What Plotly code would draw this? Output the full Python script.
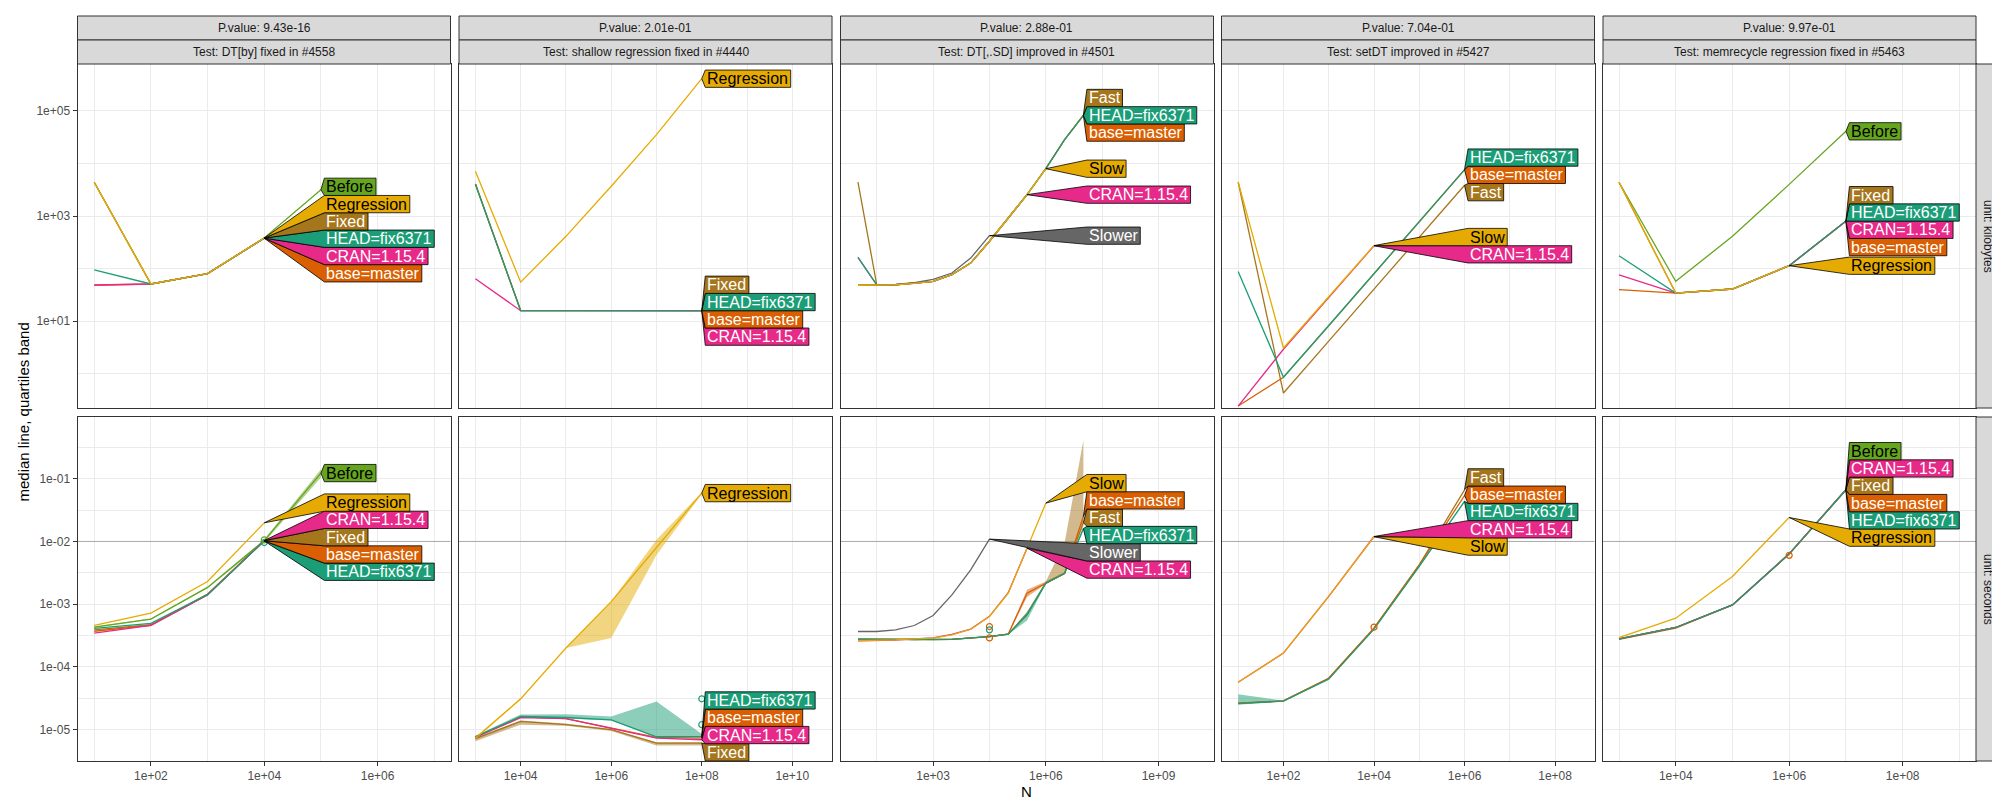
import numpy as np
import plotly.graph_objects as go

# ---------------- data ----------------
TESTS = ["DT[by] fixed in #4558", "shallow regression fixed in #4440",
         "DT[,.SD] improved in #4501", "setDT improved in #5427",
         "memrecycle regression fixed in #5463"]
PVALUES = ["9.43e-16", "2.01e-01", "2.88e-01", "7.04e-01", "9.97e-01"]
UNITS = ["kilobytes", "seconds"]

# Panel 1: DT[by]
N_BY = [1e1, 1e2, 1e3, 1e4, 1e5]
KB_BY = {
    "Before":       [4400, 50.7, 80, 382, 3170],
    "Regression":   [4400, 50.7, 80, 381],
    "Fixed":        [4400, 50.7, 80, 380],
    "HEAD=fix6371": [94, 50.7, 80, 379],
    "CRAN=1.15.4":  [48.5, 50.7, 80, 378],
    "base=master":  [48, 50.7, 80, 377],
}
SEC_BY = {
    "Before":       [4.3e-4, 5.8e-4, 1.85e-3, 1.03e-2, 0.123],
    "Regression":   [4.6e-4, 7.2e-4, 2.3e-3, 1.98e-2],
    "CRAN=1.15.4":  [3.45e-4, 4.6e-4, 1.40e-3, 1.032e-2],
    "Fixed":        [3.9e-4, 4.7e-4, 1.45e-3, 1.028e-2],
    "base=master":  [3.7e-4, 4.6e-4, 1.42e-3, 1.024e-2],
    "HEAD=fix6371": [4.1e-4, 4.95e-4, 1.42e-3, 1.020e-2],
}
BAND_BY = {"Before": ([4.2e-4, 5.7e-4, 1.8e-3, 9.6e-3, 0.105],
                      [4.4e-4, 5.9e-4, 1.9e-3, 1.08e-2, 0.14])}
OUT_N_BY = [1e4, 1e4]
OUT_SEC_BY = [9.6e-3, 1.06e-2]
OUT_GRP_BY = ["HEAD=fix6371", "Before"]

# Panel 2: shallow regression
N_SH = [1e3, 1e4, 1e5, 1e6, 1e7, 1e8]
KB_SH = {
    "Regression":   [7100, 55, 410, 3680, 35400, 412000],
    "Fixed":        [4070, 15.7, 15.7, 15.7, 15.7, 15.72],
    "HEAD=fix6371": [4070, 15.7, 15.7, 15.7, 15.7, 15.71],
    "base=master":  [4070, 15.7, 15.7, 15.7, 15.7, 15.70],
    "CRAN=1.15.4":  [64, 15.7, 15.7, 15.7, 15.7, 15.69],
}
SEC_SH = {
    "Regression":   [7.3e-6, 3.1e-5, 2.0e-4, 1.1e-3, 8.0e-3, 0.059],
    "HEAD=fix6371": [7.7e-6, 1.62e-5, 1.56e-5, 1.43e-5, 7.7e-6, 7.75e-6],
    "base=master":  [7.7e-6, 1.6e-5, 1.5e-5, 1.05e-5, 7.5e-6, 7.3e-6],
    "CRAN=1.15.4":  [7.5e-6, 1.55e-5, 1.5e-5, 1.05e-5, 7.3e-6, 6.9e-6],
    "Fixed":        [7.2e-6, 1.35e-5, 1.2e-5, 1.0e-5, 6.1e-6, 6.1e-6],
}
BAND_SH = {
    "Regression":   ([7.0e-6, 3.0e-5, 2.0e-4, 2.9e-4, 6.1e-3, 0.057],
                     [7.6e-6, 3.2e-5, 2.0e-4, 1.1e-3, 1.06e-2, 0.061]),
    "HEAD=fix6371": ([7.5e-6, 1.55e-5, 1.5e-5, 1.4e-5, 7.5e-6, 7.5e-6],
                     [8.0e-6, 1.75e-5, 1.76e-5, 1.62e-5, 2.8e-5, 8.5e-6]),
    "Fixed":        ([6.5e-6, 1.2e-5, 1.15e-5, 9.5e-6, 5.6e-6, 5.6e-6],
                     [7.4e-6, 1.4e-5, 1.25e-5, 1.02e-5, 6.3e-6, 6.3e-6]),
}
OUT_N_SH = [1e8, 1e8]
OUT_SEC_SH = [3.1e-5, 1.2e-5]
OUT_GRP_SH = ["HEAD=fix6371", "HEAD=fix6371"]

# Panel 3: DT[,.SD]
N_SD = [1e1, 10**1.5, 1e2, 10**2.5, 1e3, 10**3.5, 1e4, 10**4.5, 1e5,
        10**5.5, 1e6, 10**6.5, 1e7]
KB_SD = {
    "Fast":         [4440, 49, 49, 52, 57, 76, 127, 330, 916, 2550, 7960, 28400, 82900],
    "HEAD=fix6371": [163, 49, 49, 52, 57, 76, 127, 330, 916, 2550, 7960, 28400, 82800],
    "base=master":  [48, 49, 49, 52, 57, 76, 127, 330, 916, 2550, 7960, 28400, 82700],
    "Slow":         [48, 49, 49, 52, 57, 76, 127, 330, 916, 2550, 7960],
    "CRAN=1.15.4":  [163, 49, 49, 52, 57, 76, 127, 330, 916, 2550],
    "Slower":       [48, 49, 50, 54, 62, 82, 158, 422],
}
SEC_SD = {
    "Slow":         [2.63e-4, 2.65e-4, 2.7e-4, 2.8e-4, 2.88e-4, 3.24e-4, 3.98e-4,
                     6.37e-4, 1.5e-3, 7.8e-3, 0.0408],
    "base=master":  [2.75e-4, 2.74e-4, 2.72e-4, 2.7e-4, 2.72e-4, 2.75e-4, 2.9e-4,
                     3.05e-4, 3.33e-4, 1.5e-3, 2.16e-3, 3.1e-3, 0.025],
    "Fast":         [2.77e-4, 2.75e-4, 2.72e-4, 2.7e-4, 2.72e-4, 2.75e-4, 2.9e-4,
                     3.05e-4, 3.33e-4, 7.0e-4, 2.16e-3, 3.1e-3, 0.020],
    "HEAD=fix6371": [2.77e-4, 2.75e-4, 2.72e-4, 2.68e-4, 2.72e-4, 2.75e-4, 2.9e-4,
                     3.05e-4, 3.33e-4, 6.76e-4, 2.16e-3, 3.1e-3, 0.016],
    "Slower":       [3.67e-4, 3.67e-4, 3.89e-4, 4.57e-4, 6.6e-4, 1.41e-3, 3.52e-3, 1.09e-2],
    "CRAN=1.15.4":  [2.6e-4, 2.62e-4, 2.68e-4, 2.8e-4, 2.9e-4, 3.3e-4, 4.0e-4,
                     6.4e-4, 1.52e-3, 7.8e-3],
}
BAND_SD = {
    "Fast":         ([2.7e-4, 2.7e-4, 2.7e-4, 2.65e-4, 2.7e-4, 2.7e-4, 2.85e-4,
                      3.0e-4, 3.3e-4, 6.5e-4, 2.1e-3, 3.0e-3, 0.018],
                     [2.8e-4, 2.8e-4, 2.8e-4, 2.75e-4, 2.8e-4, 2.8e-4, 2.95e-4,
                      3.1e-4, 3.4e-4, 7.5e-4, 2.3e-3, 9.5e-3, 0.41]),
    "HEAD=fix6371": ([2.7e-4, 2.7e-4, 2.7e-4, 2.65e-4, 2.7e-4, 2.7e-4, 2.85e-4,
                      3.0e-4, 3.3e-4, 5.5e-4, 2.1e-3, 3.0e-3, 0.015],
                     [2.85e-4, 2.8e-4, 2.8e-4, 2.75e-4, 2.8e-4, 2.8e-4, 2.95e-4,
                      3.1e-4, 3.4e-4, 7.5e-4, 2.3e-3, 3.2e-3, 0.017]),
    "base=master":  ([2.7e-4, 2.7e-4, 2.7e-4, 2.65e-4, 2.7e-4, 2.7e-4, 2.85e-4,
                      3.0e-4, 3.3e-4, 1.3e-3, 2.1e-3, 3.0e-3, 0.024],
                     [2.8e-4, 2.8e-4, 2.8e-4, 2.75e-4, 2.8e-4, 2.8e-4, 2.95e-4,
                      3.1e-4, 3.4e-4, 1.7e-3, 2.3e-3, 3.2e-3, 0.026]),
}
OUT_N_SD = [10**4.5, 10**4.5, 10**4.5]
OUT_SEC_SD = [4.4e-4, 3.9e-4, 2.9e-4]
OUT_GRP_SD = ["base=master", "HEAD=fix6371", "base=master"]

# Panel 4: setDT
N_SET = [1e1, 1e2, 1e3, 1e4, 1e5, 1e6]
KB_SET = {
    "HEAD=fix6371": [88, 0.85, 8.2, 80, 780, 7650],
    "base=master":  [0.24, 0.85, 8.1, 79, 775, 7600],
    "Fast":         [4440, 0.425, 4.15, 40.5, 394, 3850],
    "Slow":         [4440, 3.06, 29, 273],
    "CRAN=1.15.4":  [0.24, 2.9, 28, 271],
}
SEC_SET = {
    "Fast":         [2.64e-5, 2.87e-5, 6.6e-5, 4.14e-4, 4.24e-3, 0.0666],
    "base=master":  [2.64e-5, 2.87e-5, 6.6e-5, 4.14e-4, 4.24e-3, 0.054],
    "HEAD=fix6371": [2.6e-5, 2.85e-5, 6.4e-5, 4.0e-4, 4.0e-3, 0.0435],
    "CRAN=1.15.4":  [5.7e-5, 1.66e-4, 1.33e-3, 1.2e-2],
    "Slow":         [5.7e-5, 1.66e-4, 1.33e-3, 1.19e-2],
}
BAND_SET = {"HEAD=fix6371": ([2.5e-5, 2.8e-5, 6.2e-5, 3.9e-4, 3.9e-3, 0.042],
                             [3.67e-5, 2.9e-5, 6.6e-5, 4.1e-4, 4.1e-3, 0.045])}
OUT_N_SET = [1e4]
OUT_SEC_SET = [4.3e-4]
OUT_GRP_SET = ["base=master"]

# Panel 5: memrecycle
N_MEM = [1e3, 1e4, 1e5, 1e6, 1e7]
KB_MEM = {
    "Before":       [4390, 57, 410, 4000, 41000],
    "Regression":   [4390, 34, 40.7, 113],
    "Fixed":        [4390, 34, 40.7, 113, 800],
    "HEAD=fix6371": [175, 34, 40.7, 113, 799],
    "CRAN=1.15.4":  [76, 34, 40.7, 113, 798],
    "base=master":  [39.5, 34, 40.7, 113, 797],
}
SEC_MEM = {
    "Before":       [2.8e-4, 4.25e-4, 9.75e-4, 6.35e-3, 0.0670],
    "CRAN=1.15.4":  [2.8e-4, 4.25e-4, 9.75e-4, 6.35e-3, 0.0668],
    "Fixed":        [2.8e-4, 4.25e-4, 9.75e-4, 6.35e-3, 0.0666],
    "base=master":  [2.75e-4, 4.15e-4, 9.7e-4, 6.3e-3, 0.0664],
    "HEAD=fix6371": [2.8e-4, 4.25e-4, 9.75e-4, 6.35e-3, 0.0662],
    "Regression":   [2.94e-4, 5.98e-4, 2.77e-3, 0.0241],
}
BAND_MEM = {}
OUT_N_MEM = [1e6]
OUT_SEC_MEM = [6.0e-3]
OUT_GRP_MEM = ["base=master"]

REF_SECONDS = 1e-2

PANELS = [
    (N_BY, KB_BY, SEC_BY, BAND_BY, (OUT_N_BY, OUT_SEC_BY, OUT_GRP_BY)),
    (N_SH, KB_SH, SEC_SH, BAND_SH, (OUT_N_SH, OUT_SEC_SH, OUT_GRP_SH)),
    (N_SD, KB_SD, SEC_SD, BAND_SD, (OUT_N_SD, OUT_SEC_SD, OUT_GRP_SD)),
    (N_SET, KB_SET, SEC_SET, BAND_SET, (OUT_N_SET, OUT_SEC_SET, OUT_GRP_SET)),
    (N_MEM, KB_MEM, SEC_MEM, BAND_MEM, (OUT_N_MEM, OUT_SEC_MEM, OUT_GRP_MEM)),
]

# ---------------- styles ----------------
COLORS = {
    "HEAD=fix6371": "#1B9E77", "base=master": "#D95F02", "CRAN=1.15.4": "#E7298A",
    "Before": "#66A61E", "Regression": "#E6AB02", "Fixed": "#A6761D",
    "Slow": "#E6AB02", "Fast": "#A6761D", "Slower": "#666666",
}
DARK_TEXT = {"Before", "Regression", "Slow"}
DRAW_ORDER = ["Before", "Fixed", "Fast", "base=master", "CRAN=1.15.4",
              "HEAD=fix6371", "Slower", "Slow", "Regression"]
FONT = "Liberation Sans, Arial, sans-serif"
LABEL_SIZE = 16
LABEL_H = 17.3
AW = {'B': 667, 'e': 556, 'f': 278, 'o': 556, 'r': 333, 'R': 722, 'g': 556, 's': 500,
      'i': 222, 'n': 556, 'F': 611, 'x': 500, 'd': 556, 'H': 722, 'E': 667, 'A': 667,
      'D': 722, '=': 584, '6': 556, '3': 556, '7': 556, '1': 556, 'C': 722, 'N': 722,
      '.': 278, '5': 556, '4': 556, 'b': 556, 'a': 556, 'm': 833, 't': 278, 'S': 667,
      'l': 222, 'w': 722}

W, H = 2000, 800
COL_X0 = [69.5, 451, 832.5, 1213.5, 1595]
PW = 373
ROW_Y = [(56, 400), (409, 753)]
XR = [(0.705, 7.287), (2.638, 10.876), (0.535, 10.463), (0.632, 8.87), (2.718, 9.293)]
YR = [(-0.657, 5.895), (-5.5, -0.016)]
X_TICKS = [[1e2, 1e4, 1e6], [1e4, 1e6, 1e8, 1e10], [1e3, 1e6, 1e9],
           [1e2, 1e4, 1e6, 1e8], [1e4, 1e6, 1e8]]
X_MINOR = [[1e1, 1e3, 1e5, 1e7], [1e3, 1e5, 1e7, 1e9], [10**1.5, 10**4.5, 10**7.5],
           [1e1, 1e3, 1e5, 1e7], [1e3, 1e5, 1e7, 1e9]]
Y_TICKS = [[1e1, 1e3, 1e5], [1e-5, 1e-4, 1e-3, 1e-2, 1e-1]]
Y_MINOR = [[1e0, 1e2, 1e4], [10**-4.5, 10**-3.5, 10**-2.5, 10**-1.5, 10**-0.5]]


def fmt(v):
    e = int(round(np.log10(v)))
    return f"1e{'+' if e >= 0 else '-'}{abs(e):02d}"


def rgba(hexc, a):
    h = hexc.lstrip('#')
    return f"rgba({int(h[0:2],16)},{int(h[2:4],16)},{int(h[4:6],16)},{a})"


def spread(desired, h, lo, hi):
    n = len(desired)
    t = [d + i * h for i, d in enumerate(desired)]
    blocks = []
    for v in t:
        blocks.append([v, 1])
        while len(blocks) > 1 and blocks[-2][0] / blocks[-2][1] < blocks[-1][0] / blocks[-1][1]:
            s, c = blocks.pop()
            blocks[-1][0] += s
            blocks[-1][1] += c
    z = []
    for s, c in blocks:
        z += [s / c] * c
    zlo = lo + h / 2 + (n - 1) * h
    zhi = hi - h / 2
    z = [min(max(v, zlo), zhi) for v in z]
    return [z[i] - i * h for i in range(n)]


fig = go.Figure()
annotations = []
shapes = []
layout = {}

for r in range(2):
    for c in range(5):
        idx = r * 5 + c + 1
        xa, ya = f"x{idx}", f"y{idx}"
        N, KB, SEC, BAND, OUT = PANELS[c]
        series = KB if r == 0 else SEC
        x0 = COL_X0[c]
        ytop, ybot = ROW_Y[r]
        layout[f"xaxis{idx}"] = dict(
            type="log", range=list(XR[c]), domain=[x0 / W, (x0 + PW) / W], anchor=ya,
            tickvals=X_TICKS[c], ticktext=[fmt(v) for v in X_TICKS[c]],
            showticklabels=(r == 1), ticks="outside" if r == 1 else "", ticklen=4,
            tickcolor="#333333", tickwidth=1,
            tickfont=dict(size=12, color="#4D4D4D", family=FONT),
            showgrid=True, gridcolor="#EBEBEB", gridwidth=1.1,
            minor=dict(tickmode="array", tickvals=X_MINOR[c], showgrid=True,
                       gridcolor="#EBEBEB", gridwidth=0.55, ticks=""),
            showline=True, mirror=True, linecolor="#333333", linewidth=1, zeroline=False,
        )
        layout[f"yaxis{idx}"] = dict(
            type="log", range=list(YR[r]), domain=[1 - ybot / H, 1 - ytop / H], anchor=xa,
            tickvals=Y_TICKS[r], ticktext=[fmt(v) for v in Y_TICKS[r]],
            showticklabels=(c == 0), ticks="outside" if c == 0 else "", ticklen=4,
            tickcolor="#333333", tickwidth=1,
            tickfont=dict(size=12, color="#4D4D4D", family=FONT),
            showgrid=True, gridcolor="#EBEBEB", gridwidth=1.1,
            minor=dict(tickmode="array", tickvals=Y_MINOR[r], showgrid=True,
                       gridcolor="#EBEBEB", gridwidth=0.55, ticks=""),
            showline=True, mirror=True, linecolor="#333333", linewidth=1, zeroline=False,
        )

        # reference line in seconds row
        if r == 1:
            fig.add_trace(go.Scatter(x=[10 ** XR[c][0], 10 ** XR[c][1]], y=[REF_SECONDS] * 2,
                                     mode="lines", line=dict(color="#ABABAB", width=1),
                                     xaxis=xa, yaxis=ya, hoverinfo="skip", showlegend=False))
            # quartile bands
            for name in DRAW_ORDER:
                if name in BAND:
                    lo, hi = BAND[name]
                    n = len(lo)
                    fig.add_trace(go.Scatter(
                        x=list(N[:n]) + list(N[:n])[::-1], y=list(hi) + list(lo)[::-1],
                        mode="lines", fill="toself", fillcolor=rgba(COLORS[name], 0.5),
                        line=dict(width=0), xaxis=xa, yaxis=ya, hoverinfo="skip",
                        showlegend=False))
        # median lines
        for name in DRAW_ORDER:
            if name in series:
                v = series[name]
                fig.add_trace(go.Scatter(x=N[:len(v)], y=v, mode="lines",
                                         line=dict(color=COLORS[name], width=1.3),
                                         xaxis=xa, yaxis=ya, name=name, showlegend=False))
        if r == 1:
            on, osec, ogrp = OUT
            for xo, yo, g in zip(on, osec, ogrp):
                fig.add_trace(go.Scatter(x=[xo], y=[yo], mode="markers",
                                         marker=dict(symbol="circle-open", size=6,
                                                     color=COLORS[g], line=dict(width=1.2)),
                                         xaxis=xa, yaxis=ya, hoverinfo="skip",
                                         showlegend=False))

        # direct labels (polygons)
        pxx = PW / (XR[c][1] - XR[c][0])
        pxy = (ybot - ytop) / (YR[r][1] - YR[r][0])
        hh = LABEL_H / pxy
        ends = {nm: (np.log10(N[len(v) - 1]), np.log10(v[-1])) for nm, v in series.items()}
        xmax = max(e[0] for e in ends.values())
        xl = xmax + 3.5 / pxx
        order = sorted(series.keys(), key=lambda nm: -ends[nm][1])
        centers = spread([ends[nm][1] for nm in order], hh, YR[r][0], YR[r][1])
        polys = []
        for nm, yc in zip(order, centers):
            tw = sum(AW.get(ch, 556) for ch in nm) * LABEL_SIZE / 1000.0
            xr_ = xl + (tw + 4.5) / pxx
            ex, ey = ends[nm]
            px = [ex, xl, xr_, xr_, xl, ex]
            py = [ey, yc + hh / 2, yc + hh / 2, yc - hh / 2, yc - hh / 2, ey]
            polys.append((nm, px, py, yc))
        for nm, px, py, yc in polys[::-1]:
            fig.add_trace(go.Scatter(x=[10 ** v for v in px], y=[10 ** v for v in py],
                                     mode="lines", fill="toself", fillcolor=COLORS[nm],
                                     line=dict(color="black", width=0.8),
                                     xaxis=xa, yaxis=ya, hoverinfo="skip", showlegend=False))
            annotations.append(dict(
                x=xl, y=yc, xref=xa, yref=ya, text=nm, showarrow=False,
                xanchor="left", yanchor="middle", xshift=1, borderpad=0,
                font=dict(size=LABEL_SIZE, family=FONT,
                          color="black" if nm in DARK_TEXT else "white")))

# strips
for c in range(5):
    x0 = COL_X0[c]
    x1 = x0 + PW
    for (ya0, ya1), txt in [((8, 32), f"P.value: {PVALUES[c]}"), ((32, 56), f"Test: {TESTS[c]}")]:
        shapes.append(dict(type="rect", xref="paper", yref="paper", x0=x0 / W, x1=x1 / W,
                           y0=1 - ya1 / H, y1=1 - ya0 / H, fillcolor="#D9D9D9",
                           line=dict(color="#333333", width=1), layer="above"))
        annotations.append(dict(x=(x0 + x1) / 2 / W, y=1 - (ya0 + ya1) / 2 / H, xref="paper",
                                yref="paper", text=txt, showarrow=False,
                                xanchor="center", yanchor="middle",
                                font=dict(size=12, color="#1A1A1A", family=FONT)))
for r in range(2):
    ytop, ybot = ROW_Y[r]
    shapes.append(dict(type="rect", xref="paper", yref="paper", x0=1968 / W, x1=1992 / W,
                       y0=1 - ybot / H, y1=1 - ytop / H, fillcolor="#D9D9D9",
                       line=dict(color="#333333", width=1), layer="above"))
    annotations.append(dict(x=1980 / W, y=1 - (ytop + ybot) / 2 / H, xref="paper", yref="paper",
                            text=f"unit: {UNITS[r]}", showarrow=False, textangle=90,
                            xanchor="center", yanchor="middle",
                            font=dict(size=12, color="#1A1A1A", family=FONT)))

# axis titles
annotations.append(dict(x=15 / W, y=1 - 404.5 / H, xref="paper", yref="paper",
                        text="median line, quartiles band", showarrow=False, textangle=-90,
                        xanchor="center", yanchor="middle",
                        font=dict(size=15, color="black", family=FONT)))
annotations.append(dict(x=1018.75 / W, y=1 - 783 / H, xref="paper", yref="paper",
                        text="N", showarrow=False, xanchor="center", yanchor="middle",
                        font=dict(size=15, color="black", family=FONT)))

fig.update_layout(
    width=W, height=H, margin=dict(l=0, r=0, t=0, b=0),
    paper_bgcolor="white", plot_bgcolor="white", showlegend=False,
    font=dict(family=FONT), annotations=annotations, shapes=shapes, **layout,
)
fig.write_html("out.html")
